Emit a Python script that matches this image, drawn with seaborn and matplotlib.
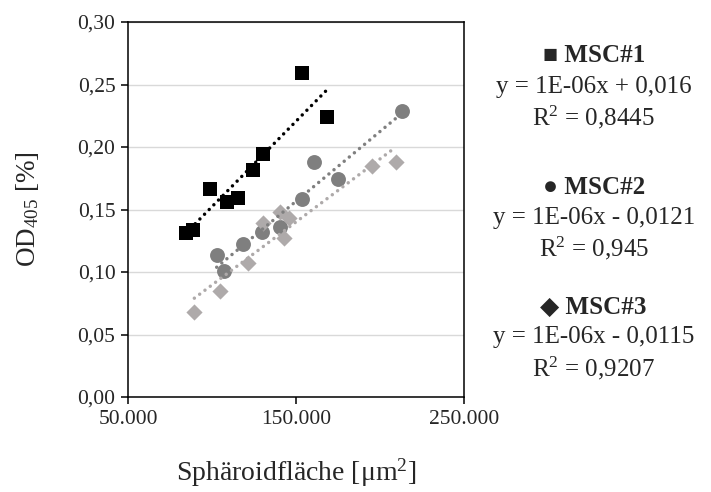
"""Scatter of OD405 against spheroid area for three MSC donors, with trendlines."""
import matplotlib
matplotlib.use("Agg")
import matplotlib.pyplot as plt
import numpy as np
import pandas as pd
import seaborn as sns

# values
msc1_area = [84500, 88900, 98800, 108800, 115700, 124200, 130200, 153600, 168300]
msc1_od = [0.1315, 0.1336, 0.1667, 0.1560, 0.1595, 0.1816, 0.1944, 0.2594, 0.2240]

msc2_area = [102800, 107100, 118600, 129600, 140700, 153800, 160500, 174800, 213300]
msc2_od = [0.1133, 0.1011, 0.1224, 0.1322, 0.1362, 0.1584, 0.1883, 0.1741, 0.2285]

msc3_area = [89500, 104800, 121300, 130500, 140500, 142900, 146000, 195100, 209500]
msc3_od = [0.0677, 0.0850, 0.1070, 0.1390, 0.1480, 0.1270, 0.1430, 0.1850, 0.1883]

series_names = ["MSC#1", "MSC#2", "MSC#3"]
series_symbols = ["\u25a0", "\u25cf", "\u25c6"]
equations = ["y = 1E-06x + 0,016", "y = 1E-06x - 0,0121", "y = 1E-06x - 0,0115"]
r_squared = ["0,8445", "0,945", "0,9207"]

x_ticks = [50000, 150000, 250000]
x_tick_labels = ["50.000", "150.000", "250.000"]
y_ticks = [0.00, 0.05, 0.10, 0.15, 0.20, 0.25, 0.30]
y_tick_labels = ["0,00", "0,05", "0,10", "0,15", "0,20", "0,25", "0,30"]

df = pd.concat([
    pd.DataFrame({"area": msc1_area, "od": msc1_od, "donor": "MSC#1"}),
    pd.DataFrame({"area": msc2_area, "od": msc2_od, "donor": "MSC#2"}),
    pd.DataFrame({"area": msc3_area, "od": msc3_od, "donor": "MSC#3"}),
])

sns.set_style("white")
plt.rcParams["font.family"] = ["Liberation Serif", "DejaVu Serif"]
plt.rcParams["mathtext.fontset"] = "custom"
plt.rcParams["mathtext.rm"] = "Liberation Serif"
plt.rcParams["mathtext.it"] = "Liberation Serif:italic"
plt.rcParams["mathtext.bf"] = "Liberation Serif:bold"

fig = plt.figure(figsize=(7.11, 4.92), dpi=100)
ax = fig.add_axes([0.18, 0.193, 0.4726, 0.7623])

styles = {
    "MSC#1": dict(marker="s", color="#000000", s=88, z=3),
    "MSC#2": dict(marker="o", color="#7f7f7f", s=115, z=4),
    "MSC#3": dict(marker="D", color="#aeaaaa", s=68, z=5),
}

for name in series_names:
    st = styles[name]
    sub = df[df["donor"] == name]
    sns.scatterplot(data=sub, x="area", y="od", marker=st["marker"],
                    color=st["color"], s=st["s"], linewidth=0,
                    zorder=st["z"], ax=ax)

for name in series_names:
    st = styles[name]
    sub = df[df["donor"] == name]
    sns.regplot(data=sub, x="area", y="od", scatter=False, ci=None,
                truncate=True, ax=ax,
                line_kws=dict(color=st["color"], linewidth=2.5,
                              linestyle=(0, (0.01, 1.9)),
                              dash_capstyle="round", zorder=6))

ax.set_xlim(50000, 250000)
ax.set_ylim(0, 0.30)
ax.set_xticks(x_ticks)
ax.set_xticklabels(x_tick_labels)
ax.set_yticks(y_ticks)
ax.set_yticklabels(y_tick_labels)
ax.yaxis.grid(True, color="#d9d9d9", linewidth=1.0)
ax.set_axisbelow(True)
for sp in ax.spines.values():
    sp.set_visible(True)
    sp.set_color("black")
    sp.set_linewidth(1.1)
ax.tick_params(axis="both", which="major", direction="out", length=5,
               width=1.1, color="black", labelsize=15.5, pad=4,
               bottom=True, left=True)

ax.set_xlabel("Sph\u00e4roidfl\u00e4che [\u03bcm$^2$]", fontsize=20, labelpad=20)
ax.set_ylabel("OD$_{405}$ [%]", fontsize=19.5, labelpad=26)

# equation block to the right of the plot
block_tops = [56, 187, 307]
for i, name in enumerate(series_names):
    y0 = block_tops[i]
    fig.text(0.835, 1 - y0 / 492, f"{series_symbols[i]} {name}",
             ha="center", va="center", fontsize=18, fontweight="bold")
    fig.text(0.835, 1 - (y0 + 30.5) / 492, equations[i],
             ha="center", va="center", fontsize=18)
    fig.text(0.835, 1 - (y0 + 61) / 492, f"R$^2$ = {r_squared[i]}",
             ha="center", va="center", fontsize=18)

fig.savefig("out.png", dpi=100)
